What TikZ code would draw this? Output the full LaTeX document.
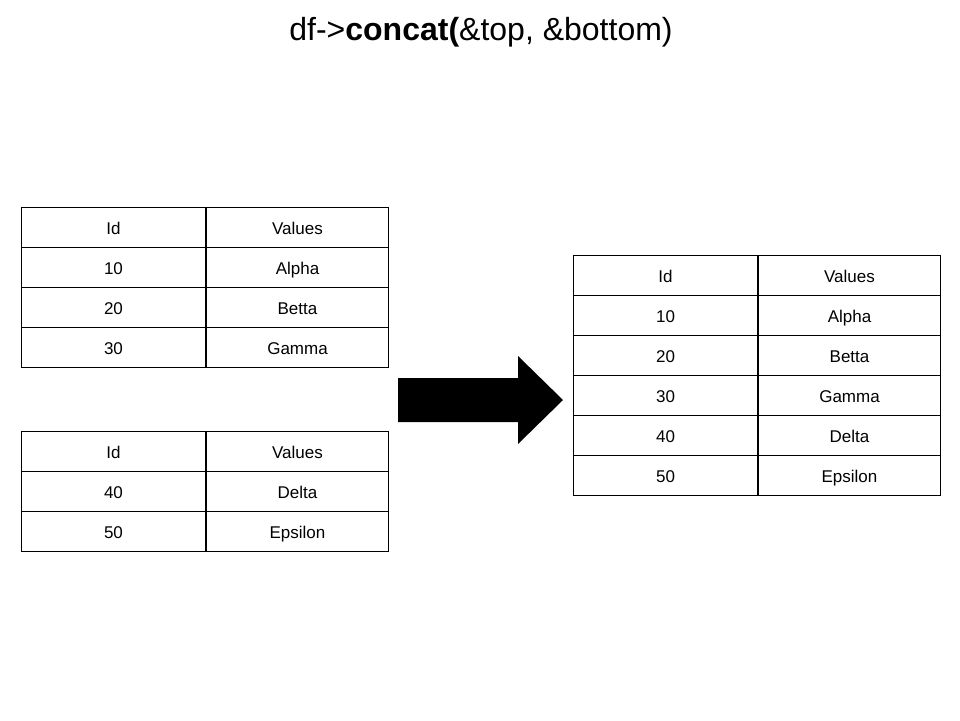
\documentclass[tikz,border=0pt]{standalone}
\usepackage{fontspec}
\setmainfont{Liberation Sans}
\begin{document}
\begin{tikzpicture}[x=1pt,y=-1pt,
  cell/.style={draw, line width=1pt, minimum width=184pt, minimum height=40pt,
    inner sep=0pt, text height=14pt, text depth=0pt, anchor=north west,
    font=\fontsize{17}{20}\selectfont},
  rcell/.style={cell, minimum width=182pt},
  title/.style={anchor=base, inner sep=0pt, font=\fontsize{32}{38}\selectfont},
  bigarrow/.style={fill=black, draw=none}]
\useasboundingbox (0,0) rectangle (960,720);
\node[title] (title) at (481,40) {df->\textbf{concat(}\&top, \&bottom)};
% top-left table
\foreach \a/\b [count=\i from 0] in {Id/Values,10/Alpha,20/Betta,30/Gamma}{
  \node[cell] (ta\i) at (21,207+40*\i) {\a};
  \node[rcell] (tb\i) at (206,207+40*\i) {\b};
}
% bottom-left table
\foreach \a/\b [count=\i from 0] in {Id/Values,40/Delta,50/Epsilon}{
  \node[cell] (ba\i) at (21,431+40*\i) {\a};
  \node[rcell] (bb\i) at (206,431+40*\i) {\b};
}
% result table
\foreach \a/\b [count=\i from 0] in {Id/Values,10/Alpha,20/Betta,30/Gamma,40/Delta,50/Epsilon}{
  \node[cell] (ra\i) at (573,255+40*\i) {\a};
  \node[rcell] (rb\i) at (758,255+40*\i) {\b};
}
% arrow
\path[bigarrow] (398,378) -- (518,378) -- (518,356) -- (563,400) -- (518,444) -- (518,422) -- (398,422) -- cycle;
\end{tikzpicture}
\end{document}
